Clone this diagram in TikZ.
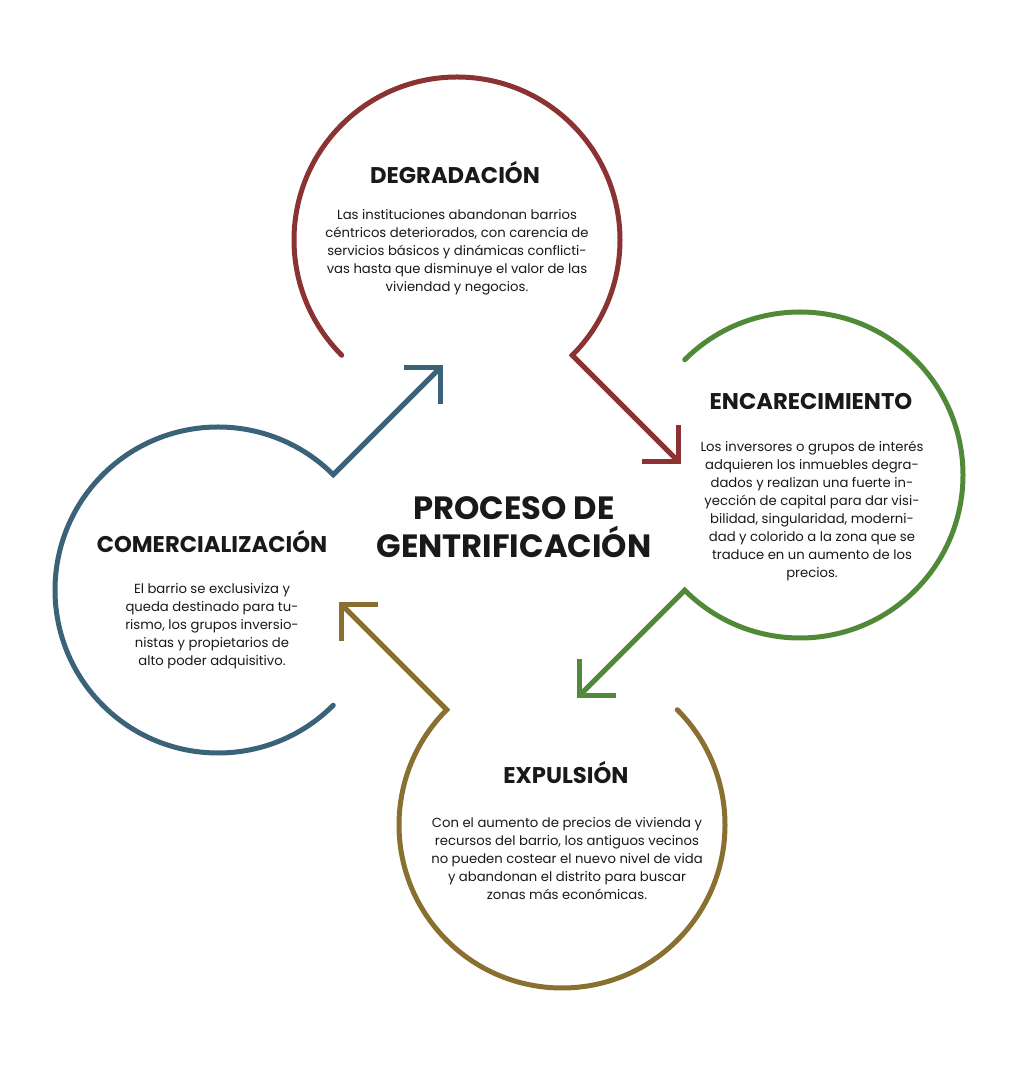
\documentclass[tikz,border=0pt]{standalone}
\usepackage{fontspec}
\setmainfont{Poppins}
\usetikzlibrary{calc}
\definecolor{cred}{RGB}{139,50,50}
\definecolor{cgreen}{RGB}{80,138,56}
\definecolor{cgold}{RGB}{138,112,48}
\definecolor{cblue}{RGB}{58,98,120}
\definecolor{ctext}{RGB}{25,25,25}
\tikzset{
  ring/.style={line width=5pt, line join=miter, line cap=round},
  barb/.style={line width=5pt, line join=miter, line cap=butt},
  stagetitle/.style={font=\bfseries\fontsize{22.7}{26}\selectfont, text=ctext, inner sep=0pt},
  stagebody/.style={font=\fontsize{13.2}{18}\selectfont, text=ctext, align=center, inner sep=0pt},
  maintitle/.style={font=\bfseries\fontsize{32.2}{38}\selectfont, text=ctext, align=center, inner sep=0pt}
}
\begin{document}
\begin{tikzpicture}[x=1pt,y=1pt]
\useasboundingbox[fill=white] (0,0) rectangle (1020,1090);
% circle centres
\coordinate (cR) at (457,850);
\coordinate (cG) at (800,615);
\coordinate (cY) at (562,265);
\coordinate (cB) at (218,500);
\def\rr{163}
% arrow tips
\coordinate (tR) at ($(cR)+(-45:\rr)+(106,-106)$);
\coordinate (tG) at ($(cG)+(-135:\rr)+(-105,-105)$);
\coordinate (tY) at ($(cY)+(135:\rr)+(-105,105)$);
\coordinate (tB) at ($(cB)+(45:\rr)+(107,107)$);
% red ring + arrow
\draw[ring, cred] ($(cR)+(225:\rr)$) arc[start angle=225, end angle=-45, radius=\rr] -- (tR);
\draw[barb, cred] ($(tR)+(-36,0)$) -- (tR) -- ($(tR)+(0,36)$);
% green ring + arrow
\draw[ring, cgreen] ($(cG)+(135:\rr)$) arc[start angle=135, end angle=-135, radius=\rr] -- (tG);
\draw[barb, cgreen] ($(tG)+(36,0)$) -- (tG) -- ($(tG)+(0,36)$);
% gold ring + arrow
\draw[ring, cgold] ($(cY)+(45:\rr)$) arc[start angle=45, end angle=-225, radius=\rr] -- (tY);
\draw[barb, cgold] ($(tY)+(36,0)$) -- (tY) -- ($(tY)+(0,-36)$);
% blue ring + arrow
\draw[ring, cblue] ($(cB)+(-45:\rr)$) arc[start angle=-45, end angle=-315, radius=\rr] -- (tB);
\draw[barb, cblue] ($(tB)+(-36,0)$) -- (tB) -- ($(tB)+(0,-36)$);
% texts
\node[maintitle] (main) at (514,563) {PROCESO DE\\GENTRIFICACIÓN};
\node[stagetitle] (h1) at (455,917) {DEGRADACIÓN};
\node[stagebody] (b1) at (457,838) {Las instituciones abandonan barrios\\céntricos deteriorados, con carencia de\\servicios básicos y dinámicas conflicti-\\vas hasta que disminuye el valor de las\\viviendad y negocios.};
\node[stagetitle] (h2) at (811,688) {ENCARECIMIENTO};
\node[stagebody] (b2) at (812,579) {Los inversores o grupos de interés\\adquieren los inmuebles degra-\\dados y realizan una fuerte in-\\yección de capital para dar visi-\\bilidad, singularidad, moderni-\\dad y colorido a la zona que se\\traduce en un aumento de los\\precios.};
\node[stagetitle] (h3) at (212,548) {COMERCIALIZACIÓN};
\node[stagebody] (b3) at (212,464) {El barrio se exclusiviza y\\queda destinado para tu-\\rismo, los grupos inversio-\\nistas y propietarios de\\alto poder adquisitivo.};
\node[stagetitle] (h4) at (566,317) {EXPULSIÓN};
\node[stagebody] (b4) at (567,231) {Con el aumento de precios de vivienda y\\recursos del barrio, los antiguos vecinos\\no pueden costear el nuevo nivel de vida\\y abandonan el distrito para buscar\\zonas más económicas.};
\end{tikzpicture}
\end{document}
